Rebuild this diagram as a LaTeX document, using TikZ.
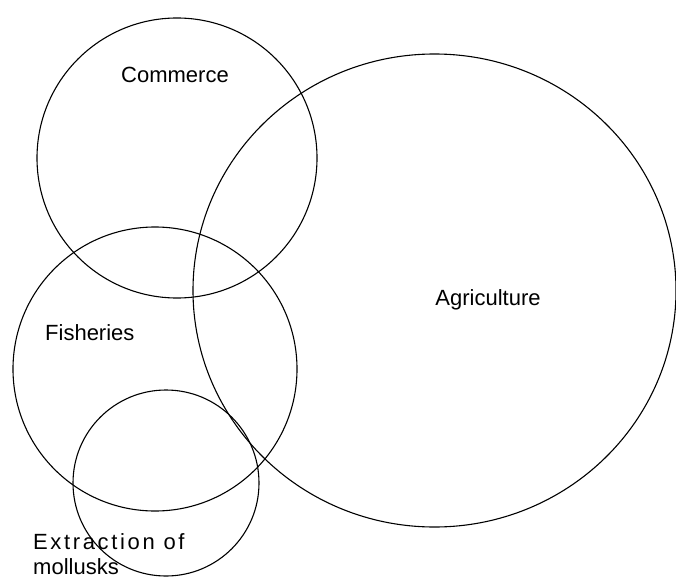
\documentclass[tikz,border=0pt]{standalone}
\usepackage{fontspec}
\setmainfont{Liberation Sans}
\usepackage{tikz}
\usetikzlibrary{positioning, calc, shapes}

\tikzset{
  ring/.style={circle, draw, line width=1.1pt, inner sep=0pt},
  lbl/.style={font=\fontsize{22}{25}\selectfont, inner sep=0pt}
}

\begin{document}
\begin{tikzpicture}[x=1pt, y=-1pt]
\useasboundingbox (0,0) rectangle (676,580);
\node[ring, minimum size=280pt] (Com) at (177,158) {};
\node[ring, ellipse, minimum width=483pt, minimum height=473pt] (Agr) at (434.5,290.5) {};
\node[ring, minimum size=284pt] (Fish) at (155,369) {};
\node[ring, minimum size=186pt] (Moll) at (166,483) {};
\node[lbl, anchor=base] (ComL) at (175,83) {Commerce};
\node[lbl, anchor=base] (AgrL) at (488,305) {Agriculture};
\node[lbl, anchor=base west] (FishL) at (45,340) {Fisheries};
\node[lbl, anchor=base west, align=left] (MollL) at (33,574)
  {{\addfontfeature{LetterSpace=12}Extraction of}\\mollusks};
\end{tikzpicture}
\end{document}
